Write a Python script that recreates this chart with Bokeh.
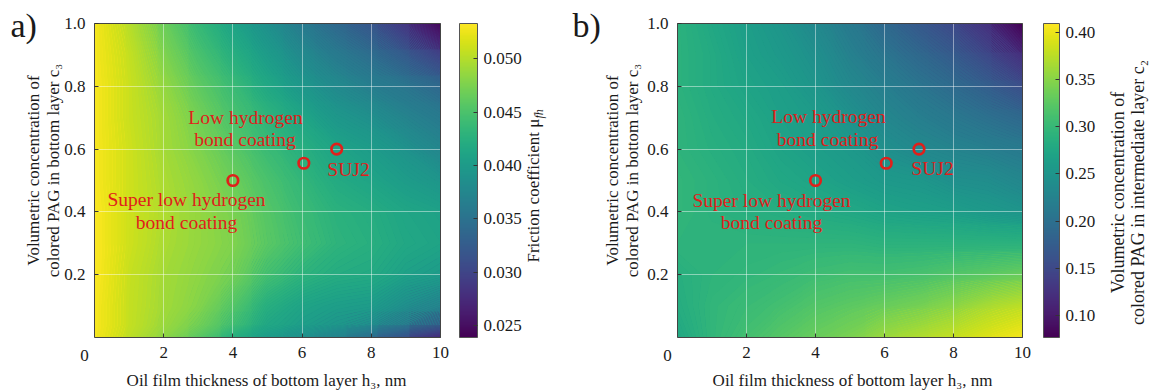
import numpy as np
from bokeh.plotting import figure
from bokeh.models import (LinearColorMapper, ColorBar, Label, FixedTicker, LinearAxis,
                          PrintfTickFormatter, Grid)
from bokeh.layouts import row
from bokeh.palettes import Viridis256
from bokeh.core.properties import value
from bokeh.embed import file_html
from bokeh.resources import INLINE

FONT = "Liberation Serif"
RED = "#e0201b"
INK = "#1a1a1a"
EDGE = "#444444"

# ---------------- data ----------------
h_grid = [0, 1, 2, 3, 4, 5, 6, 7, 8, 9, 10]                              # oil film thickness h3, nm
c_grid_a = [0.0, 0.04, 0.1, 0.2, 0.3, 0.4, 0.5, 0.6, 0.7, 0.8, 0.9, 1.0]  # concentration c3 (panel a)
c_grid_b = [0.0, 0.1, 0.2, 0.3, 0.4, 0.5, 0.6, 0.7, 0.8, 0.9, 1.0]        # concentration c3 (panel b)

# panel a: friction coefficient, one row per c3 value (c3 = 0 first), columns h3 = 0..10
friction_rows = [
    [0.0529, 0.0504, 0.0483, 0.0458, 0.0424, 0.0401, 0.0386, 0.0371, 0.0345, 0.0313, 0.0274],
    [0.0530, 0.0507, 0.0489, 0.0471, 0.0445, 0.0415, 0.0404, 0.0395, 0.0386, 0.0368, 0.0345],
    [0.0530, 0.0507, 0.0492, 0.0479, 0.0455, 0.0424, 0.0410, 0.0404, 0.0401, 0.0386, 0.0374],
    [0.0532, 0.0508, 0.0493, 0.0483, 0.0471, 0.0446, 0.0430, 0.0421, 0.0418, 0.0407, 0.0401],
    [0.0532, 0.0511, 0.0496, 0.0486, 0.0477, 0.0458, 0.0443, 0.0430, 0.0424, 0.0415, 0.0410],
    [0.0532, 0.0511, 0.0498, 0.0486, 0.0474, 0.0455, 0.0439, 0.0427, 0.0421, 0.0412, 0.0407],
    [0.0530, 0.0511, 0.0496, 0.0483, 0.0467, 0.0449, 0.0433, 0.0418, 0.0410, 0.0401, 0.0392],
    [0.0530, 0.0511, 0.0493, 0.0477, 0.0458, 0.0439, 0.0424, 0.0410, 0.0401, 0.0389, 0.0374],
    [0.0530, 0.0509, 0.0492, 0.0471, 0.0449, 0.0430, 0.0412, 0.0395, 0.0386, 0.0371, 0.0360],
    [0.0530, 0.0509, 0.0486, 0.0461, 0.0439, 0.0415, 0.0395, 0.0379, 0.0365, 0.0354, 0.0339],
    [0.0529, 0.0507, 0.0477, 0.0449, 0.0424, 0.0401, 0.0379, 0.0360, 0.0345, 0.0324, 0.0298],
    [0.0529, 0.0501, 0.0467, 0.0436, 0.0410, 0.0386, 0.0360, 0.0339, 0.0318, 0.0286, 0.0245],
]

# panel b: concentration c2 in intermediate layer
c2_rows = [
    [0.276, 0.296, 0.310, 0.323, 0.333, 0.343, 0.360, 0.370, 0.380, 0.393, 0.404],
    [0.283, 0.296, 0.303, 0.310, 0.320, 0.326, 0.333, 0.340, 0.351, 0.366, 0.376],
    [0.286, 0.293, 0.296, 0.300, 0.306, 0.310, 0.310, 0.313, 0.320, 0.326, 0.333],
    [0.293, 0.293, 0.293, 0.293, 0.293, 0.293, 0.290, 0.290, 0.290, 0.290, 0.290],
    [0.296, 0.290, 0.286, 0.283, 0.280, 0.276, 0.270, 0.266, 0.263, 0.256, 0.250],
    [0.296, 0.290, 0.283, 0.276, 0.270, 0.263, 0.256, 0.253, 0.243, 0.240, 0.230],
    [0.293, 0.286, 0.280, 0.270, 0.263, 0.256, 0.243, 0.233, 0.226, 0.220, 0.213],
    [0.293, 0.283, 0.276, 0.266, 0.260, 0.246, 0.230, 0.220, 0.210, 0.200, 0.190],
    [0.290, 0.280, 0.270, 0.263, 0.250, 0.233, 0.220, 0.206, 0.193, 0.177, 0.157],
    [0.290, 0.280, 0.266, 0.256, 0.243, 0.223, 0.206, 0.190, 0.173, 0.150, 0.123],
    [0.290, 0.276, 0.263, 0.250, 0.233, 0.213, 0.190, 0.170, 0.150, 0.123, 0.077],
]

friction_range = (0.0239, 0.0533)
c2_range = (0.0767, 0.4095)

# marked coatings (h3, c3)
point_h = [4.0, 6.05, 7.0]
point_c = [0.50, 0.555, 0.60]

note_text = ["Low hydrogen", "bond coating", "SUJ2", "Super low hydrogen", "bond coating"]

x_ticks = [2, 4, 6, 8, 10]
y_ticks = [0.2, 0.4, 0.6, 0.8, 1.0]
grid_x = [2, 4, 6, 8]
grid_y = [0.2, 0.4, 0.6, 0.8]
friction_ticks = [0.025, 0.030, 0.035, 0.040, 0.045, 0.050]
c2_ticks = [0.10, 0.15, 0.20, 0.25, 0.30, 0.35, 0.40]

H_MAX = 10
C_MAX = 1
N_BANDS = 160   # shading resolution of the filled contours

# ---------------- layout (page pixels) ----------------
PANELS = [
    dict(width=565, left=94, right=440, bar_x=459, bar_w=18,
         rows=friction_rows, cgrid=c_grid_a, vrange=friction_range, ticks=friction_ticks,
         fmt="%.3f", tag="a)", tag_px=10, ylines_px=[33, 53],
         notes_px=[(245, 117), (244.5, 139), (348, 169), (186, 199), (186, 222)],
         xtitle_px=266, zero_px=84,
         cb_title=["Friction coefficient \u03bc"], cb_title_px=[533], cb_size="17px"),
    dict(width=584, left=677, right=1022, bar_x=1043, bar_w=16,
         rows=c2_rows, cgrid=c_grid_b, vrange=c2_range, ticks=c2_ticks, fmt="%.2f",
         tag="b)", tag_px=572, ylines_px=[612, 632],
         notes_px=[(828, 116), (827, 139), (932, 168), (771, 200), (771, 222)],
         xtitle_px=852, zero_px=667,
         cb_title=["Volumetric concentration of", "colored PAG in intermediate layer c\u2082"],
         cb_title_px=[1117, 1137], cb_size="18px"),
]
TOP, BOTTOM, HEIGHT = 23, 337, 391


def make_panel(cfg, x0):
    kx = (cfg["right"] - cfg["left"]) / H_MAX
    ky = (BOTTOM - TOP) / C_MAX
    W = cfg["width"]
    fx = lambda px: (px - cfg["left"]) / kx          # page px -> data x
    fy = lambda py: (BOTTOM - py) / ky               # page py -> data y
    xr = (fx(x0), fx(x0 + W))
    yr = (fy(HEIGHT), fy(0))

    p = figure(width=W, height=HEIGHT, x_range=xr, y_range=yr,
               x_axis_type=None, y_axis_type=None,
               output_backend="svg", toolbar_location=None, min_border=0)
    p.outline_line_color = None
    p.background_fill_color = "white"
    p.border_fill_color = "white"

    lo, hi = cfg["vrange"]
    mapper = LinearColorMapper(palette=Viridis256, low=lo, high=hi)
    z = np.array(cfg["rows"], dtype=float)

    # coarse base layer (fills any anti-alias seams), then smooth filled contours on top
    p.image(image=[z], x=0, y=0, dw=H_MAX, dh=C_MAX, color_mapper=mapper, level="image")
    levels = np.linspace(lo, hi, N_BANDS + 1)
    mids = 0.5 * (levels[:-1] + levels[1:])
    band_colors = [Viridis256[min(255, int((m - lo) / (hi - lo) * 256))] for m in mids]
    cr = p.contour(h_grid, cfg["cgrid"], z, levels, fill_color=band_colors, line_color=None)
    cr.level = "image"

    # grid lines limited to the map
    p.add_layout(Grid(dimension=0, ticker=FixedTicker(ticks=grid_x), cross_bounds=(0, C_MAX),
                      grid_line_color="white", grid_line_alpha=0.45, level="underlay"))
    p.add_layout(Grid(dimension=1, ticker=FixedTicker(ticks=grid_y), cross_bounds=(0, H_MAX),
                      grid_line_color="white", grid_line_alpha=0.45, level="underlay"))

    # axes fixed to the map edges
    def style(ax):
        ax.major_label_text_font = FONT
        ax.major_label_text_font_size = "17px"
        ax.major_label_text_color = INK
        ax.major_tick_in = 4
        ax.major_tick_out = 0
        ax.minor_tick_line_color = None
        ax.major_tick_line_color = "#333333"
        ax.axis_line_color = EDGE
    xa = LinearAxis(fixed_location=0, bounds=(0, H_MAX), ticker=FixedTicker(ticks=x_ticks),
                    formatter=PrintfTickFormatter(format="%d"))
    ya = LinearAxis(fixed_location=0, bounds=(0, C_MAX), ticker=FixedTicker(ticks=y_ticks),
                    formatter=PrintfTickFormatter(format="%.1f"))
    style(xa); style(ya)
    xa.major_label_standoff = 9
    ya.major_label_standoff = 9
    p.add_layout(xa, "below")
    p.add_layout(ya, "left")
    for loc, bnd, side in ((C_MAX, (0, H_MAX), "above"), (H_MAX, (0, C_MAX), "right")):
        ax = LinearAxis(fixed_location=loc, bounds=bnd, ticker=FixedTicker(ticks=[]),
                        major_tick_line_color=None, minor_tick_line_color=None,
                        major_label_text_font_size="0px", axis_line_color=EDGE)
        p.add_layout(ax, side)

    # marks and notes
    p.scatter(point_h, point_c, marker="circle", size=10.5, fill_color=None,
              line_color=RED, line_width=2.7)
    note_x = [fx(a) for a, b in cfg["notes_px"]]
    note_y = [fy(b) for a, b in cfg["notes_px"]]
    p.text(note_x, note_y, text=note_text, text_font=value(FONT), text_font_size="19.5px",
           text_color=RED, text_align="center", text_baseline="middle")

    def lab(px, py, text, size, angle=0.0, align="center", baseline="middle", style="normal",
            color=INK):
        p.add_layout(Label(x=fx(px), y=fy(py), text=text, angle=angle, text_font=FONT,
                           text_font_size=size, text_color=color, text_align=align,
                           text_baseline=baseline, text_font_style=style))

    lab(cfg["zero_px"], 355, "0", "17px")
    lab(cfg["tag_px"], 25, cfg["tag"], "34px", align="left")
    ylines = ["Volumetric concentration of", "colored PAG in bottom layer c\u2083"]
    for px, t in zip(cfg["ylines_px"], ylines):
        lab(px, 170, t, "17px", angle=np.pi / 2)
    lab(cfg["xtitle_px"], 380, "Oil film thickness of bottom layer h\u2083, nm", "17px",
        baseline="alphabetic")

    # colour bar
    cb = ColorBar(color_mapper=mapper, ticker=FixedTicker(ticks=cfg["ticks"]),
                  formatter=PrintfTickFormatter(format=cfg["fmt"]),
                  width=cfg["bar_w"], height=BOTTOM - TOP, padding=0, margin=0,
                  location=(cfg["bar_x"] - x0, HEIGHT - BOTTOM),
                  major_label_text_font=FONT, major_label_text_font_size="17px",
                  major_label_text_color=INK, major_tick_in=4, major_tick_line_color="#333333",
                  bar_line_color="#555555", label_standoff=6, background_fill_alpha=0,
                  border_line_color=None)
    p.add_layout(cb, "center")

    if len(cfg["cb_title"]) == 1:
        start_py = 262
        lab(cfg["cb_title_px"][0], start_py, cfg["cb_title"][0], cfg["cb_size"],
            angle=np.pi / 2, align="left")
        lab(cfg["cb_title_px"][0] + 5, 118, "fh", "12px", angle=np.pi / 2, align="left",
            style="italic")
    else:
        for px, t in zip(cfg["cb_title_px"], cfg["cb_title"]):
            lab(px, 192, t, cfg["cb_size"], angle=np.pi / 2)
    return p


pa = make_panel(PANELS[0], 0)
pb = make_panel(PANELS[1], PANELS[0]["width"])
layout = row(pa, pb, spacing=0)
open("out.html", "w").write(file_html(layout, INLINE))
